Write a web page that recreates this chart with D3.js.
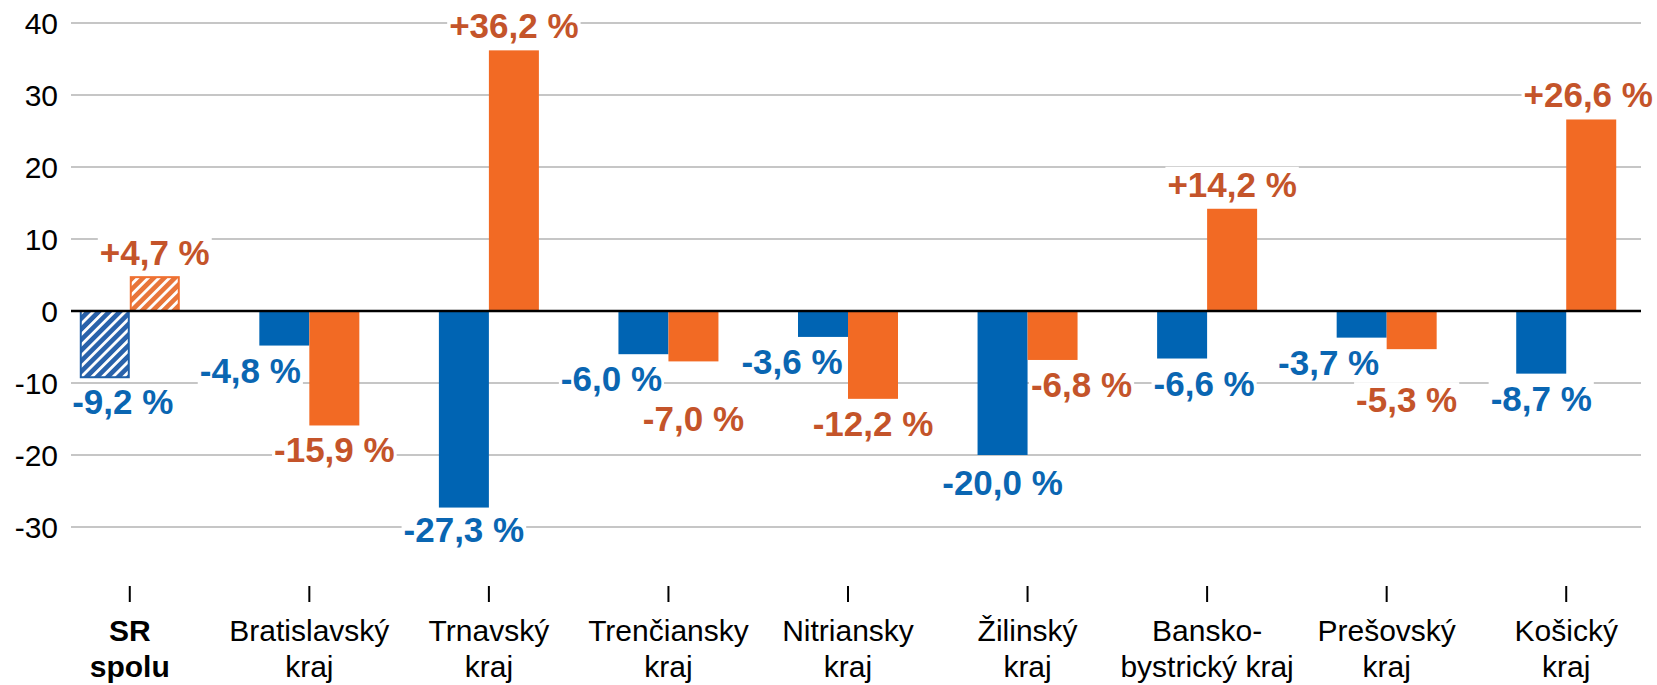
<!DOCTYPE html>
<html>
<head>
<meta charset="utf-8">
<script src="https://cdn.jsdelivr.net/npm/d3@7"></script>
<style>
  body { margin: 0; background: #fff; }
  text { font-family: Arial, "Liberation Sans", sans-serif; }
</style>
</head>
<body>
<div id="vis"></div>
<script>
var categories = ["SR spolu", "Bratislavský kraj", "Trnavský kraj", "Trenčiansky kraj",
    "Nitriansky kraj", "Žilinský kraj", "Bansko-bystrický kraj", "Prešovský kraj", "Košický kraj"];
var categoryLines = [["SR", "spolu"], ["Bratislavský", "kraj"], ["Trnavský", "kraj"],
    ["Trenčiansky", "kraj"], ["Nitriansky", "kraj"], ["Žilinský", "kraj"],
    ["Bansko-", "bystrický kraj"], ["Prešovský", "kraj"], ["Košický", "kraj"]];
var blueValues = [-9.2, -4.8, -27.3, -6.0, -3.6, -20.0, -6.6, -3.7, -8.7];
var orangeValues = [4.7, -15.9, 36.2, -7.0, -12.2, -6.8, 14.2, -5.3, 26.6];
var yTicks = [-30, -20, -10, 0, 10, 20, 30, 40];

// hand nudges for labels that would collide (dx, dy in px)
var blueNudge = [[18, 0], [-34, 0], [0, -3], [-32, 0], [-31, 0], [0, 3], [22, 0], [-33, 0], [0, 0]];
var orangeNudge = [[0, 0], [0, 0], [0, 0], [0, 33], [0, 0], [29, 0], [0, 0], [-5, 26], [-3, 0]];

var w = 1657,
    h = 685,
    blue = "#0064b3",
    orange = "#f26a24",
    blueText = "#0a66b2",
    orangeText = "#c4542a";

var locale = d3.formatLocale({decimal: ",", thousands: " ", grouping: [3], currency: ["", ""], minus: "-"}),
    fmtVal = locale.format("+.1f"),
    fmtTick = locale.format("d");

var x = d3.scaleBand().domain(categories).range([40, 1656]),
    y = d3.scaleLinear().domain([-30, 40]).range([527, 23]),
    series = d3.scaleBand().domain(["blue", "orange"]).range([0, 100]);

var svg = d3.select("#vis").append("svg")
    .attr("width", w)
    .attr("height", h);

// hatch patterns for the SR total
var defs = svg.append("defs");
[["hatch-blue", "#2a62aa"], ["hatch-orange", "#e8753a"]].forEach(function(p) {
  var pat = defs.append("pattern")
      .attr("id", p[0])
      .attr("patternUnits", "userSpaceOnUse")
      .attr("width", 7.5)
      .attr("height", 7.5)
      .attr("patternTransform", "rotate(45)");
  pat.append("rect").attr("width", 7.5).attr("height", 7.5).attr("fill", p[1]);
  pat.append("rect").attr("x", 0).attr("width", 2.8).attr("height", 7.5).attr("fill", "#fff");
});

// gridlines
svg.append("g").selectAll("line")
    .data(yTicks.filter(function(d) { return d !== 0; }))
  .enter().append("line")
    .attr("x1", 71).attr("x2", 1641)
    .attr("y1", function(d) { return y(d); })
    .attr("y2", function(d) { return y(d); })
    .attr("stroke", "#b3b3b3")
    .attr("stroke-width", 1.4);

// y tick labels
svg.append("g").selectAll("text")
    .data(yTicks)
  .enter().append("text")
    .attr("x", 58)
    .attr("y", function(d) { return y(d); })
    .attr("dy", "0.35em")
    .attr("text-anchor", "end")
    .attr("font-size", 30)
    .attr("fill", "#000")
    .text(fmtTick);

var rows = categories.map(function(c, i) {
  return {cat: c, i: i, blue: blueValues[i], orange: orangeValues[i]};
});

var bars = [];
rows.forEach(function(r) {
  bars.push({cat: r.cat, i: r.i, key: "blue", v: r.blue, nudge: blueNudge[r.i]});
  bars.push({cat: r.cat, i: r.i, key: "orange", v: r.orange, nudge: orangeNudge[r.i]});
});

function barX(d) {
  return x(d.cat) + x.bandwidth() / 2 - 50 + series(d.key);
}

svg.append("g").selectAll("rect")
    .data(bars)
  .enter().append("rect")
    .attr("x", function(d) { return barX(d) + (d.i === 0 ? 1 : 0); })
    .attr("y", function(d) { return y(Math.max(0, d.v)); })
    .attr("width", function(d) { return series.bandwidth() - (d.i === 0 ? 2 : 0); })
    .attr("height", function(d) { return Math.abs(y(d.v) - y(0)); })
    .attr("fill", function(d) {
      if (d.i === 0) return "url(#hatch-" + d.key + ")";
      return d.key === "blue" ? blue : orange;
    })
    .attr("stroke", function(d) { return d.i === 0 ? (d.key === "blue" ? "#1f5fa8" : "#f07030") : "none"; })
    .attr("stroke-width", 2);

// zero line
svg.append("line")
    .attr("x1", 71).attr("x2", 1641)
    .attr("y1", y(0)).attr("y2", y(0))
    .attr("stroke", "#000")
    .attr("stroke-width", 2.6);

// value labels with white backing boxes
var labels = svg.append("g").selectAll("g")
    .data(bars)
  .enter().append("g");

labels.append("text")
    .attr("x", function(d) { return barX(d) + series.bandwidth() / 2 + d.nudge[0]; })
    .attr("y", function(d) { return (d.v < 0 ? y(d.v) + 37 : y(d.v) - 12) + d.nudge[1]; })
    .attr("text-anchor", "middle")
    .attr("font-size", 35)
    .attr("font-weight", "bold")
    .attr("fill", function(d) { return d.key === "blue" ? blueText : orangeText; })
    .text(function(d) { return fmtVal(d.v) + " %"; });

labels.each(function() {
  var g = d3.select(this),
      b = g.select("text").node().getBBox();
  g.insert("rect", "text")
      .attr("x", b.x - 2)
      .attr("y", b.y + 2)
      .attr("width", b.width + 4)
      .attr("height", b.height - 4)
      .attr("fill", "#fff");
});

// category axis: ticks and two-line labels
var cat = svg.append("g").selectAll("g")
    .data(rows)
  .enter().append("g")
    .attr("transform", function(d) { return "translate(" + (x(d.cat) + x.bandwidth() / 2) + ",0)"; });

cat.append("line")
    .attr("y1", 586).attr("y2", 602)
    .attr("stroke", "#000")
    .attr("stroke-width", 2);

cat.append("text")
    .attr("text-anchor", "middle")
    .attr("font-size", 30)
    .attr("font-weight", function(d) { return d.i === 0 ? "bold" : "normal"; })
    .attr("fill", "#000")
    .selectAll("tspan")
    .data(function(d) { return categoryLines[d.i]; })
  .enter().append("tspan")
    .attr("x", 0)
    .attr("y", function(d, j) { return 641 + j * 36; })
    .text(function(d) { return d; });
</script>
</body>
</html>
